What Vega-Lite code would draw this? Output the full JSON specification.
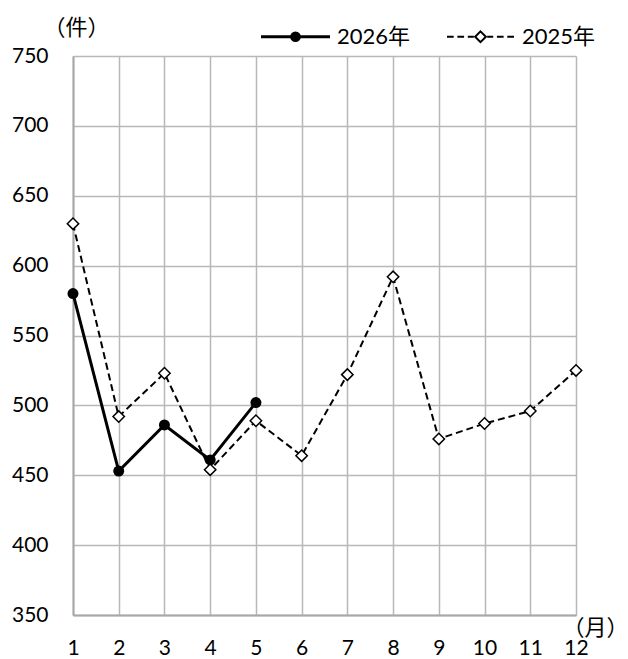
{
  "$schema": "https://vega.github.io/schema/vega-lite/v6.json",
  "width": 503,
  "height": 559,
  "autosize": {"type": "none"},
  "padding": {"left": 73, "top": 56, "right": 52, "bottom": 44},
  "background": "white",
  "config": {"view": {"stroke": null}, "font": "Lato, Noto Sans CJK JP"},
  "data": {
    "values": [
      {"year": "2026年", "month": 1, "value": 580},
      {"year": "2026年", "month": 2, "value": 453},
      {"year": "2026年", "month": 3, "value": 486},
      {"year": "2026年", "month": 4, "value": 461},
      {"year": "2026年", "month": 5, "value": 502},
      {"year": "2025年", "month": 1, "value": 630},
      {"year": "2025年", "month": 2, "value": 492},
      {"year": "2025年", "month": 3, "value": 523},
      {"year": "2025年", "month": 4, "value": 454},
      {"year": "2025年", "month": 5, "value": 489},
      {"year": "2025年", "month": 6, "value": 464},
      {"year": "2025年", "month": 7, "value": 522},
      {"year": "2025年", "month": 8, "value": 592},
      {"year": "2025年", "month": 9, "value": 476},
      {"year": "2025年", "month": 10, "value": 487},
      {"year": "2025年", "month": 11, "value": 496},
      {"year": "2025年", "month": 12, "value": 525}
    ]
  },
  "encoding": {
    "x": {
      "field": "month",
      "type": "quantitative",
      "scale": {"domain": [1, 12], "nice": false, "zero": false},
      "axis": {
        "values": [1, 2, 3, 4, 5, 6, 7, 8, 9, 10, 11, 12],
        "format": "d",
        "grid": true,
        "gridColor": "#b8b8b8",
        "gridWidth": 1.5,
        "domainColor": "#a8a8a8",
        "domainWidth": 2,
        "ticks": false,
        "tickSize": 0,
        "labelFlush": false,
        "labelPadding": 22,
        "labelFontSize": 21,
        "labelColor": "black",
        "labelFont": "Lato, Noto Sans CJK JP",
        "title": "（月）",
        "titleFont": "Noto Sans CJK JP",
        "titleFontSize": 22,
        "titleFontWeight": "normal",
        "titleColor": "black",
        "titleAngle": 0,
        "titleAlign": "center",
        "titleBaseline": "middle",
        "titleX": 522,
        "titleY": 12
      }
    },
    "y": {
      "field": "value",
      "type": "quantitative",
      "scale": {"domain": [350, 750], "nice": false, "zero": false},
      "axis": {
        "values": [350, 400, 450, 500, 550, 600, 650, 700, 750],
        "grid": true,
        "gridColor": "#b8b8b8",
        "gridWidth": 1.5,
        "domainColor": "#a8a8a8",
        "domainWidth": 2,
        "ticks": false,
        "tickSize": 0,
        "labelFlush": false,
        "labelPadding": 25,
        "labelFontSize": 21,
        "labelColor": "black",
        "labelFont": "Lato, Noto Sans CJK JP",
        "title": "（件）",
        "titleFont": "Noto Sans CJK JP",
        "titleFontSize": 22,
        "titleFontWeight": "normal",
        "titleColor": "black",
        "titleAngle": 0,
        "titleAlign": "center",
        "titleBaseline": "middle",
        "titleX": 3,
        "titleY": -29
      }
    }
  },
  "layer": [
    {
      "transform": [{"filter": "datum.year == '2026年'"}],
      "mark": {"type": "line", "color": "black", "strokeWidth": 3}
    },
    {
      "transform": [{"filter": "datum.year == '2026年'"}],
      "mark": {"type": "point", "shape": "circle", "filled": true, "color": "black", "size": 121, "opacity": 1}
    },
    {
      "transform": [{"filter": "datum.year == '2025年'"}],
      "mark": {"type": "line", "color": "black", "strokeWidth": 2, "strokeDash": [7, 4]}
    },
    {
      "transform": [{"filter": "datum.year == '2025年'"}],
      "mark": {"type": "point", "shape": "diamond", "filled": true, "fill": "white", "stroke": "black", "strokeWidth": 1.5, "size": 130, "opacity": 1}
    },
    {
      "mark": {"type": "point", "filled": true, "opacity": 0, "strokeWidth": 2},
      "encoding": {
        "shape": {
          "field": "year",
          "type": "nominal",
          "scale": {
            "domain": ["2026年", "2025年"],
            "range": [
              "M-1,-0.015L1,-0.015L1,0.015L-1,0.015Z M0.13,0A0.13,0.13 0 1,1 -0.13,0A0.13,0.13 0 1,1 0.13,0Z",
              "M-1,0L-0.8,0 M-0.69,0L-0.49,0 M-0.38,0L-0.2,0 M0.2,0L0.38,0 M0.49,0L0.69,0 M0.8,0L1,0 M0,-0.16L0.16,0L0,0.16L-0.16,0Z"
            ]
          },
          "legend": {
            "title": null,
            "orient": "none",
            "legendX": 188,
            "legendY": -54,
            "direction": "horizontal",
            "columns": 2,
            "columnPadding": 32,
            "labelOffset": 7,
            "symbolSize": 4489,
            "symbolStrokeWidth": 2,
            "symbolOpacity": 1,
            "labelFontSize": 22,
            "labelFont": "Lato, Noto Sans CJK JP",
            "labelColor": "black",
            "padding": 0,
            "rowPadding": 0
          }
        },
        "fill": {
          "field": "year",
          "type": "nominal",
          "scale": {"domain": ["2026年", "2025年"], "range": ["black", "white"]},
          "legend": {
            "title": null,
            "orient": "none",
            "legendX": 188,
            "legendY": -54,
            "direction": "horizontal",
            "columns": 2,
            "columnPadding": 32,
            "labelOffset": 7,
            "symbolSize": 4489,
            "symbolStrokeWidth": 2,
            "symbolOpacity": 1,
            "labelFontSize": 22,
            "labelFont": "Lato, Noto Sans CJK JP",
            "labelColor": "black",
            "padding": 0,
            "rowPadding": 0
          }
        },
        "stroke": {
          "field": "year",
          "type": "nominal",
          "scale": {"domain": ["2026年", "2025年"], "range": ["black", "black"]},
          "legend": {
            "title": null,
            "orient": "none",
            "legendX": 188,
            "legendY": -54,
            "direction": "horizontal",
            "columns": 2,
            "columnPadding": 32,
            "labelOffset": 7,
            "symbolSize": 4489,
            "symbolStrokeWidth": 2,
            "symbolOpacity": 1,
            "labelFontSize": 22,
            "labelFont": "Lato, Noto Sans CJK JP",
            "labelColor": "black",
            "padding": 0,
            "rowPadding": 0
          }
        }
      }
    }
  ]
}
